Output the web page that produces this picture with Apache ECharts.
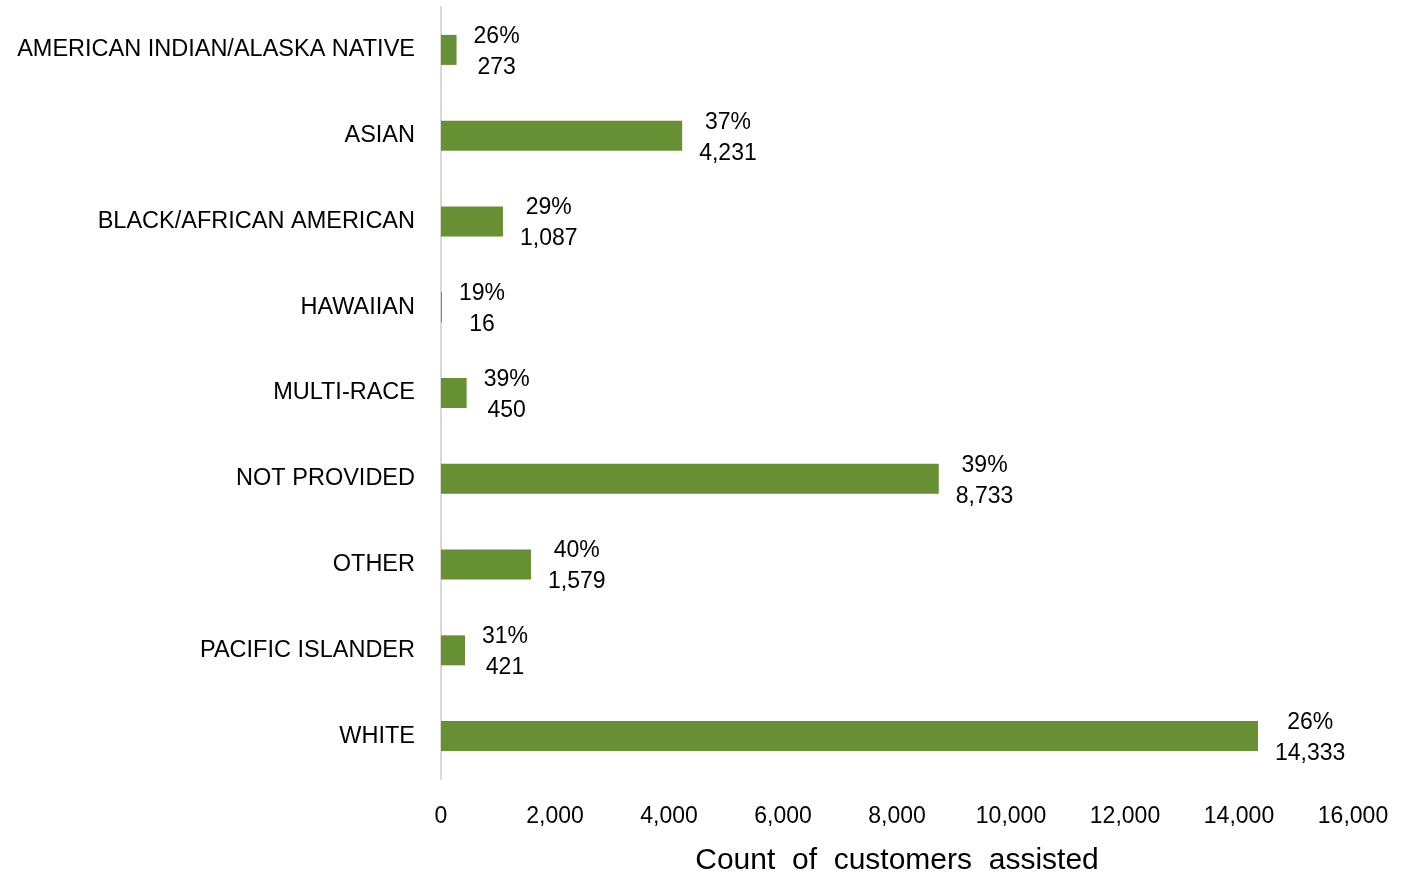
<!DOCTYPE html>
<html>
<head>
<meta charset="utf-8">
<script src="https://cdn.jsdelivr.net/npm/echarts@6/dist/echarts.min.js"></script>
<style>
  html, body { margin: 0; padding: 0; background: #fff; }
  #chart { width: 1417px; height: 877px; }
</style>
</head>
<body>
<div id="chart"></div>
<script>
// categories listed top to bottom
const categories = [
  "AMERICAN INDIAN/ALASKA NATIVE",
  "ASIAN",
  "BLACK/AFRICAN AMERICAN",
  "HAWAIIAN",
  "MULTI-RACE",
  "NOT PROVIDED",
  "OTHER",
  "PACIFIC ISLANDER",
  "WHITE"
];
const counts = [273, 4231, 1087, 16, 450, 8733, 1579, 421, 14333];
const percents = [26, 37, 29, 19, 39, 39, 40, 31, 26];

const chart = echarts.init(document.getElementById("chart"));
const fontFamily = "Liberation Sans, Arial, sans-serif";

chart.setOption({
  animation: false,
  grid: { left: 441, right: 64, top: 7, bottom: 98, outerBoundsMode: "none" },
  xAxis: {
    type: "value",
    min: 0,
    max: 16000,
    interval: 2000,
    name: "Count  of  customers  assisted",
    nameLocation: "middle",
    nameGap: 67,
    nameTextStyle: { fontSize: 30, color: "#000", fontFamily: fontFamily },
    axisLine: { show: false },
    axisTick: { show: false },
    splitLine: { show: false },
    axisLabel: {
      fontSize: 23,
      color: "#000",
      fontFamily: fontFamily,
      margin: 26,
      formatter: (v) => v.toLocaleString("en-US")
    }
  },
  yAxis: {
    type: "category",
    inverse: true,
    data: categories,
    axisLine: { show: true, lineStyle: { color: "#d9d9d9", width: 2 } },
    axisTick: { show: false },
    axisLabel: { fontSize: 23.5, color: "#000", fontFamily: fontFamily, margin: 26 }
  },
  series: [
    {
      type: "bar",
      barWidth: 30,
      itemStyle: { color: "#678f33" },
      data: counts,
      label: {
        show: true,
        position: "right",
        distance: 17,
        offset: [0, 2],
        formatter: (p) =>
          "{a|" + percents[p.dataIndex] + "%}\n{a|" + counts[p.dataIndex].toLocaleString("en-US") + "}",
        rich: {
          a: { fontSize: 23, color: "#000", fontFamily: fontFamily, lineHeight: 31, align: "center" }
        }
      }
    }
  ]
});
</script>
</body>
</html>
